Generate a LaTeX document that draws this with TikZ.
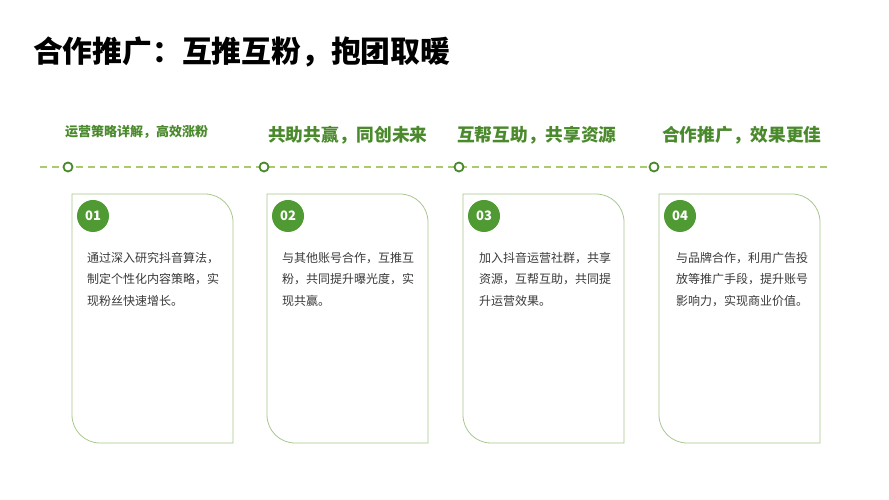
\documentclass[tikz,border=0pt]{standalone}
\usepackage{fontspec}
\setmainfont{Noto Sans CJK SC}
\definecolor{hdgreen}{HTML}{4A8A2C}
\definecolor{numfill}{HTML}{4F9A32}
\definecolor{cardline}{HTML}{A9C98C}
\definecolor{dashgreen}{HTML}{A9CB6E}
\definecolor{bodytext}{HTML}{3A3A3A}
\tikzset{
  cardbox/.style={draw=cardline, line width=0.8pt, fill=white},
  timeline/.style={draw=dashgreen, line width=1.4pt, dash pattern=on 7pt off 5pt},
  tdot/.style={circle, draw=hdgreen, line width=1.8pt, fill=white, minimum size=9pt, inner sep=0pt},
  numdot/.style={circle, fill=numfill, minimum size=32pt, inner sep=0pt, text=white, font=\bfseries\fontsize{13}{13}\selectfont},
  bodytxt/.style={anchor=north west, inner sep=0pt, align=left, text=bodytext, font=\fontsize{12}{21.5}\selectfont},
  headbig/.style={anchor=west, inner sep=0pt, text=hdgreen, font=\bfseries\fontsize{17.7}{20}\selectfont},
  headsmall/.style={anchor=west, inner sep=0pt, text=hdgreen, font=\bfseries\fontsize{13}{15}\selectfont},
  titletxt/.style={anchor=west, inner sep=0pt, text=black, font=\bfseries\fontsize{29.8}{32}\selectfont}
}
\begin{document}
\begin{tikzpicture}[x=1pt,y=1pt]
\useasboundingbox (0,0) rectangle (889,500);
\fill[white] (0,0) rectangle (889,500);

% title
\node[titletxt] (title) at (33,448) {合作推广：互推互粉，抱团取暖};

% headers
\node[headsmall] (h1) at (65,368) {运营策略详解，高效涨粉};
\node[headbig] (h2) at (268,365) {共助共赢，同创未来};
\node[headbig] (h3) at (457,365) {互帮互助，共享资源};
\node[headbig] (h4) at (662,365) {合作推广，效果更佳};

% timeline
\coordinate (tlstart) at (40,333);
\coordinate (tlend) at (828,333);
\draw[timeline] (tlstart) -- (tlend);
\node[tdot] (d1) at (68,333) {};
\node[tdot] (d2) at (264,333) {};
\node[tdot] (d3) at (459,333) {};
\node[tdot] (d4) at (654,333) {};

% cards
\foreach \L/\n in {72/1,267/2,463/3,659/4}{
  \draw[cardbox] (\L,306) -- ({\L+161-28},306) arc[start angle=90,end angle=0,radius=28]
    -- ({\L+161},57) -- ({\L+28},57) arc[start angle=270,end angle=180,radius=28] -- cycle;
}
\node[numdot] (n1) at (93,284) {01};
\node[numdot] (n2) at (288,284) {02};
\node[numdot] (n3) at (484,284) {03};
\node[numdot] (n4) at (680,284) {04};

\node[bodytxt] (t1) at (87,248) {通过深入研究抖音算法，\\制定个性化内容策略，实\\现粉丝快速增长。};
\node[bodytxt] (t2) at (282,248) {与其他账号合作，互推互\\粉，共同提升曝光度，实\\现共赢。};
\node[bodytxt] (t3) at (479,248) {加入抖音运营社群，共享\\资源，互帮互助，共同提\\升运营效果。};
\node[bodytxt] (t4) at (676,248) {与品牌合作，利用广告投\\放等推广手段，提升账号\\影响力，实现商业价值。};
\end{tikzpicture}
\end{document}
